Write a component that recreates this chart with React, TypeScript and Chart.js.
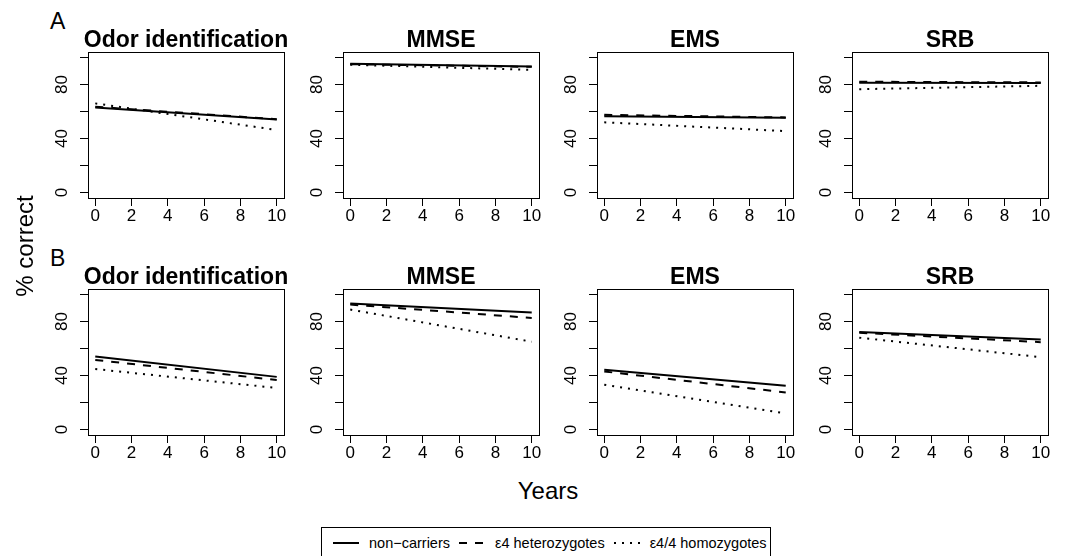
import React, { useEffect, useRef } from "react";
import { Chart, registerables } from "chart.js";

Chart.register(...registerables);

// ---------- data ----------
const years = [0, 10];
const panelTitles = ["Odor identification", "MMSE", "EMS", "SRB"];
const rowLabels = ["A", "B"];
const seriesNames = ["non\u2212carriers", "\u03b54 heterozygotes", "\u03b54/4 homozygotes"];
const xTickValues = [0, 2, 4, 6, 8, 10];
const yTickValues = [0, 20, 40, 60, 80, 100];
const yTickLabels = ["0", "", "40", "", "80", ""];

// each entry: [value at year 0, value at year 10], one entry per panel
const nonCarriersA = [[63, 54], [95.3, 93.2], [56.5, 55.3], [81.3, 81]];
const heterozygotesA = [[63.5, 54.3], [95, 93], [57.5, 55.6], [82, 81.5]];
const homozygotesA = [[66, 46.3], [94.6, 90.8], [52, 45.5], [76.5, 79]];

const nonCarriersB = [[54, 39], [93.2, 86.7], [44.3, 32.5], [72.1, 66.7]];
const heterozygotesB = [[51.5, 36.7], [92.5, 82.6], [43, 27.5], [71.6, 64.7]];
const homozygotesB = [[44.8, 30.8], [88.8, 65], [33.2, 12], [68, 53.6]];

// ---------- layout / style ----------
const FONT = "'Liberation Sans', Arial, Helvetica, sans-serif";
const BOX_L = [88, 343, 597, 852];
const BOX_T = [52, 289];
const BOX_W = 196;
const BOX_H = 146;
const AXIS_W = 70;
const PAD_TOP = 40;
const AXIS_H = 40;
const PAD_RIGHT = 14;
const dashes: number[][] = [[], [8, 8], [2, 6]];

function Panel({ row, col }: { row: number; col: number }) {
  const ref = useRef<HTMLCanvasElement>(null);
  useEffect(() => {
    const series =
      row === 0
        ? [nonCarriersA, heterozygotesA, homozygotesA]
        : [nonCarriersB, heterozygotesB, homozygotesB];
    const title = panelTitles[col];
    const decor = {
      id: "panelDecor",
      afterDraw(chart: any) {
        const { ctx, chartArea: a, scales } = chart;
        ctx.save();
        ctx.strokeStyle = "#000";
        ctx.lineWidth = 1;
        ctx.strokeRect(a.left + 0.5, a.top + 0.5, a.right - a.left, a.bottom - a.top);
        ctx.fillStyle = "#000";
        ctx.font = `17px ${FONT}`;
        yTickValues.forEach((v, i) => {
          const lbl = yTickLabels[i];
          if (!lbl) return;
          const y = scales.y.getPixelForValue(v);
          ctx.save();
          ctx.translate(a.left - 21, y);
          ctx.rotate(-Math.PI / 2);
          ctx.textAlign = "center";
          ctx.textBaseline = "alphabetic";
          ctx.fillText(lbl, 0, 0);
          ctx.restore();
        });
        ctx.font = `bold 23px ${FONT}`;
        ctx.textAlign = "center";
        ctx.textBaseline = "alphabetic";
        ctx.fillText(title, (a.left + a.right) / 2, a.top - 5);
        ctx.restore();
      },
    };
    const gridOpts = {
      display: true,
      drawOnChartArea: false,
      drawTicks: true,
      tickLength: 8,
      color: "#000",
      lineWidth: 1,
    };
    const chart = new Chart(ref.current as HTMLCanvasElement, {
      type: "line",
      data: {
        datasets: series.map((s, k) => ({
          label: seriesNames[k],
          data: years.map((x, j) => ({ x, y: s[col][j] })),
          borderColor: "#000",
          borderWidth: 2,
          borderDash: dashes[k],
          pointRadius: 0,
          fill: false,
          tension: 0,
        })),
      },
      options: {
        responsive: false,
        animation: false,
        devicePixelRatio: 1,
        events: [],
        layout: { padding: { top: PAD_TOP, right: PAD_RIGHT, left: 0, bottom: 0 } },
        plugins: { legend: { display: false }, tooltip: { enabled: false }, title: { display: false } },
        scales: {
          x: {
            type: "linear",
            bounds: "data",
            min: -0.4,
            max: 10.4,
            afterBuildTicks: (s: any) => {
              s.ticks = xTickValues.map((v) => ({ value: v }));
            },
            afterFit: (s: any) => {
              s.height = AXIS_H;
            },
            ticks: {
              autoSkip: false,
              maxRotation: 0,
              minRotation: 0,
              padding: 0,
              color: "#000",
              font: { family: FONT, size: 17 },
            },
            grid: gridOpts,
            border: { display: false },
          },
          y: {
            type: "linear",
            bounds: "data",
            min: -4,
            max: 104,
            afterBuildTicks: (s: any) => {
              s.ticks = yTickValues.map((v) => ({ value: v }));
            },
            afterFit: (s: any) => {
              s.width = AXIS_W;
            },
            ticks: { display: false },
            grid: gridOpts,
            border: { display: false },
          },
        },
      } as any,
      plugins: [decor],
    });
    return () => chart.destroy();
  }, [row, col]);

  const w = AXIS_W + BOX_W + PAD_RIGHT;
  const h = PAD_TOP + BOX_H + AXIS_H;
  return (
    <canvas
      ref={ref}
      width={w}
      height={h}
      style={{
        position: "absolute",
        left: BOX_L[col] - AXIS_W,
        top: BOX_T[row] - PAD_TOP,
        width: w,
        height: h,
      }}
    />
  );
}

function LegendSample({ dash }: { dash: number[] }) {
  return (
    <svg width={26} height={4} style={{ display: "block", flex: "0 0 auto" }}>
      <line
        x1={0}
        y1={2}
        x2={26}
        y2={2}
        stroke="#000"
        strokeWidth={2}
        strokeDasharray={dash.length ? dash.join(" ") : undefined}
      />
    </svg>
  );
}

export default function App() {
  const baseTop = (baseline: number, fs: number) => baseline - 0.8465 * fs;
  return (
    <div
      style={{
        position: "absolute",
        left: 0,
        top: 0,
        width: 1068,
        height: 556,
        overflow: "hidden",
        background: "#fff",
        fontFamily: FONT,
        color: "#000",
      }}
    >
      {rowLabels.map((lbl, r) => (
        <div
          key={lbl}
          style={{
            position: "absolute",
            left: 50,
            top: baseTop(r === 0 ? 29.5 : 266, 23),
            fontSize: 23,
            lineHeight: "23px",
          }}
        >
          {lbl}
        </div>
      ))}
      {[0, 1].map((r) => [0, 1, 2, 3].map((c) => <Panel key={`${r}-${c}`} row={r} col={c} />))}
      <div
        style={{
          position: "absolute",
          left: 448,
          width: 200,
          textAlign: "center",
          top: baseTop(499, 24),
          fontSize: 24,
          lineHeight: "24px",
        }}
      >
        Years
      </div>
      <div
        style={{
          position: "absolute",
          left: 24.7,
          top: 246,
          width: 200,
          textAlign: "center",
          fontSize: 24,
          lineHeight: "24px",
          whiteSpace: "nowrap",
          transform: "translate(-50%, -50%) rotate(-90deg)",
        }}
      >
        % correct
      </div>
      <div
        style={{
          position: "absolute",
          left: 321,
          top: 527,
          width: 450,
          height: 40,
          border: "1px solid #000",
          boxSizing: "border-box",
          display: "flex",
          alignItems: "flex-start",
          paddingLeft: 11,
          paddingTop: 6,
          fontSize: 14.5,
          lineHeight: "18px",
          whiteSpace: "nowrap",
        }}
      >
        {seriesNames.map((name, k) => (
          <div key={k} style={{ display: "flex", alignItems: "center", marginRight: 9 }}>
            <LegendSample dash={dashes[k]} />
            <span style={{ marginLeft: 10 }}>{name}</span>
          </div>
        ))}
      </div>
    </div>
  );
}
